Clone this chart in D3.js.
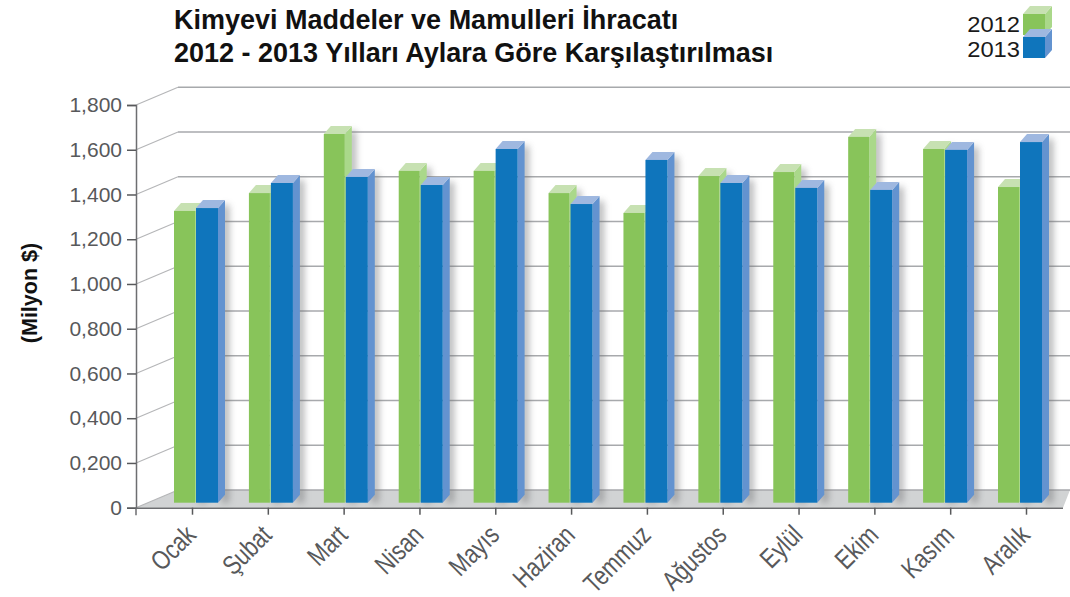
<!DOCTYPE html>
<html>
<head>
<meta charset="utf-8">
<script src="https://cdn.jsdelivr.net/npm/d3@7"></script>
<style>
  html, body { margin: 0; padding: 0; background: #fff; }
  svg { display: block; font-family: "Liberation Sans", Arial, sans-serif; }
</style>
</head>
<body>
<script>
const months = ["Ocak", "Şubat", "Mart", "Nisan", "Mayıs", "Haziran", "Temmuz", "Ağustos", "Eylül", "Ekim", "Kasım", "Aralık"];
const values2012 = [1304, 1384, 1648, 1483, 1483, 1384, 1295, 1460, 1478, 1635, 1581, 1411];
const values2013 = [1317, 1429, 1456, 1420, 1581, 1335, 1532, 1429, 1407, 1398, 1577, 1612];
const tickValues = [0, 200, 400, 600, 800, 1000, 1200, 1400, 1600, 1800];
const tickLabels = ["0", "0,200", "0,400", "0,600", "0,800", "1,000", "1,200", "1,400", "1,600", "1,800"];
const titleLines = ["Kimyevi Maddeler ve Mamulleri İhracatı", "2012 - 2013 Yılları Aylara Göre Karşılaştırılması"];
const legendNames = ["2012", "2013"];

const w = 1070, h = 597;
const depthX = 42, depthY = 17.7;   // wall offset
const barDX = 7, barDY = 8;         // bar extrusion

const green = { front: "#88c45a", top: "#c7e1b2", side: "#aad88a" };
const blue = { front: "#0f75bc", top: "#9fb8e0", side: "#6393d0" };

const svg = d3.select("body").append("svg").attr("width", w).attr("height", h);

const defs = svg.append("defs");
defs.append("filter").attr("id", "soft")
  .attr("x", "-150%").attr("width", "400%").attr("y", "-20%").attr("height", "140%")
  .append("feGaussianBlur").attr("stdDeviation", 3.5);

const axisY = d3.scaleLinear().domain([0, 1800]).range([507.7, 105]);
const barY = d3.scaleLinear().domain([0, 1800]).range([502.7, 100]);
const tickX = d3.scalePoint().domain(months).range([192, 1026]);
const barX = d3.scalePoint().domain(months).range([174, 998]);

// floor
svg.append("polygon")
  .attr("points", [[136, axisY(0)], [136 + depthX, axisY(0) - depthY], [1070, axisY(0) - depthY], [1063, axisY(0)]].join(" "))
  .attr("fill", "#d1d3d4");

// wall gridlines
tickValues.forEach(v => {
  const y = axisY(v);
  svg.append("line")
    .attr("x1", 136).attr("y1", y).attr("x2", 136 + depthX).attr("y2", y - depthY)
    .attr("stroke", "#b5b6b8").attr("stroke-width", 1.2);
  svg.append("line")
    .attr("x1", 136 + depthX).attr("y1", y - depthY).attr("x2", 1070).attr("y2", y - depthY)
    .attr("stroke", "#a7a9ac").attr("stroke-width", 1.5);
});

// y axis
const gy = svg.append("g")
  .attr("transform", "translate(136,0)")
  .call(d3.axisLeft(axisY).tickValues(tickValues).tickSize(9).tickPadding(5)
    .tickFormat(d => tickLabels[tickValues.indexOf(d)]));
gy.selectAll("path").attr("stroke", "#6d6e71").attr("stroke-width", 1.5);
gy.selectAll("line").attr("stroke", "#58595b").attr("stroke-width", 1.5);
gy.selectAll("text").attr("fill", "#58595b").style("font-size", "21px").style("font-family", "'Liberation Sans'");

// x axis
const gx = svg.append("g")
  .attr("transform", `translate(0,${axisY(0)})`)
  .call(d3.axisBottom(tickX).tickSize(7).tickSizeOuter(0));
gx.select("path").attr("stroke", "#6d6e71").attr("stroke-width", 1.5)
  .attr("d", "M136,0.5V7.5M136,0.5H1063");
gx.selectAll("line").attr("stroke", "#58595b").attr("stroke-width", 1.5);
gx.selectAll("text")
  .attr("fill", "#58595b")
  .attr("text-anchor", "end")
  .attr("y", 0).attr("dy", 0)
  .attr("transform", "translate(5,29) rotate(-45) scale(0.8,1)")
  .style("font-size", "27px")
  .style("font-family", "'Liberation Sans'");

function drawShadow(g, x, bw, top, bottom) {
  const x2 = x + bw + barDX;
  g.append("rect")
    .attr("x", x2 - 3).attr("y", top - barDY + 5)
    .attr("width", 7).attr("height", bottom - top + 3)
    .attr("fill", "#6d6e71").attr("opacity", 0.55)
    .attr("filter", "url(#soft)");
}

function drawBar(g, x, bw, top, bottom, c) {
  const x2 = x + bw;
  g.append("polygon")
    .attr("points", [[x2, top], [x2 + barDX, top - barDY], [x2 + barDX, bottom - barDY], [x2, bottom]].join(" "))
    .attr("fill", c.side);
  g.append("polygon")
    .attr("points", [[x, top], [x + barDX, top - barDY], [x2 + barDX, top - barDY], [x2, top]].join(" "))
    .attr("fill", c.top);
  g.append("rect")
    .attr("x", x).attr("y", top).attr("width", bw).attr("height", bottom - top)
    .attr("fill", c.front);
}

// bars
months.forEach((m, i) => {
  const g = svg.append("g");
  const x = barX(m);
  const bottom = barY(0);
  drawShadow(g, x, 21, barY(values2012[i]), bottom);
  drawBar(g, x, 21, barY(values2012[i]), bottom, green);
  drawShadow(g, x + 22, 22, barY(values2013[i]), bottom);
  drawBar(g, x + 22, 22, barY(values2013[i]), bottom, blue);
});

// title
svg.append("g").selectAll("text").data(titleLines).join("text")
  .attr("x", 174)
  .attr("y", (d, i) => 29 + i * 33)
  .attr("font-weight", "bold")
  .attr("font-size", 27)
  .attr("fill", "#111")
  .text(d => d);

// y title
svg.append("text")
  .attr("transform", "translate(37,293) rotate(-90)")
  .attr("text-anchor", "middle")
  .attr("font-weight", "bold")
  .attr("font-size", 21.5)
  .attr("fill", "#111")
  .text("(Milyon $)");

// legend
legendNames.forEach((name, i) => {
  const g = svg.append("g");
  const top = i === 0 ? 14 : 37;
  svg.append("text")
    .attr("transform", `translate(1020,${32 + i * 25}) scale(1.08,1)`)
    .attr("text-anchor", "end")
    .attr("font-size", 22)
    .attr("fill", "#1a1a1a")
    .text(name);
  drawBar(g, 1023, 22, top, top + 21, i === 0 ? green : blue);
});
</script>
</body>
</html>
